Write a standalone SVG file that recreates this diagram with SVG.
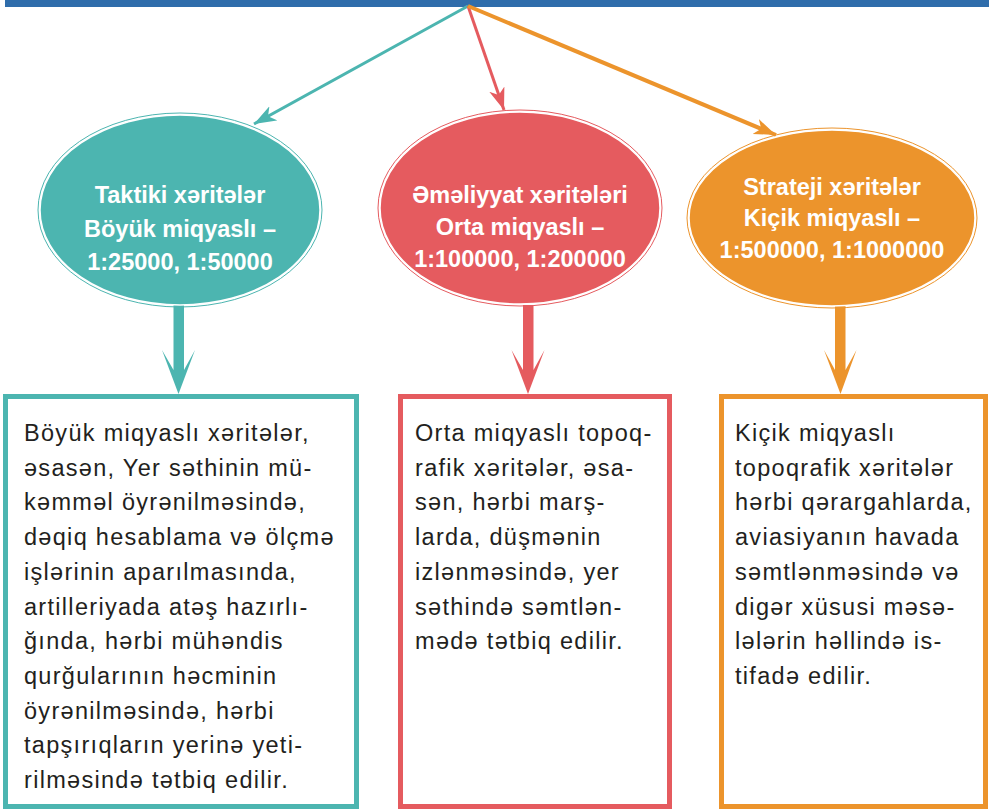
<svg xmlns="http://www.w3.org/2000/svg" width="989" height="810" viewBox="0 0 989 810">
<style>
.t{font-family:"Liberation Sans",Arial,sans-serif;font-weight:bold;font-size:23.5px;fill:#ffffff;text-anchor:middle}
.b{font-family:"Liberation Sans",Arial,sans-serif;font-size:23.5px;fill:#231f20;letter-spacing:1.3px}
.box{fill:#ffffff;stroke-width:5}
</style>
<defs>
<marker id="mt" markerUnits="userSpaceOnUse" markerWidth="24" markerHeight="18" refX="22" refY="8" orient="auto"><path d="M0,0 L22,8 L0,16 L6,8 Z" fill="#4cb5b0"/></marker>
<marker id="mr" markerUnits="userSpaceOnUse" markerWidth="24" markerHeight="18" refX="22" refY="8" orient="auto"><path d="M0,0 L22,8 L0,16 L6,8 Z" fill="#e55b5f"/></marker>
<marker id="mo" markerUnits="userSpaceOnUse" markerWidth="24" markerHeight="18" refX="22" refY="8" orient="auto"><path d="M0,0 L22,8 L0,16 L6,8 Z" fill="#ec942c"/></marker>
</defs>
<rect x="5" y="0" width="984" height="7" fill="#2f6dab"/>
<g id="connectors">
<line x1="468" y1="6" x2="254" y2="124" stroke="#4cb5b0" stroke-width="3" marker-end="url(#mt)"/>
<line x1="468" y1="6" x2="504" y2="110" stroke="#e55b5f" stroke-width="3" marker-end="url(#mr)"/>
<line x1="468" y1="6" x2="776" y2="135" stroke="#ec942c" stroke-width="4" marker-end="url(#mo)"/>
<path d="M173.5,305 H184 V370 L195,350 L178.5,394 L162,350 L173.5,370 Z" fill="#4cb5b0"/>
<path d="M523,305 H533.5 V370 L544.5,350 L528,394 L511.5,350 L523,370 Z" fill="#e55b5f"/>
<path d="M835,305 H845.5 V370 L856.5,350 L840.5,394 L824,350 L835,370 Z" fill="#ec942c"/>
</g>
<g id="n-taktiki">
<ellipse cx="180" cy="210" rx="142" ry="97" fill="none" stroke="#4cb5b0" stroke-width="1"/>
<ellipse cx="180" cy="210" rx="140" ry="95" fill="#4cb5b0" stroke="#ffffff" stroke-width="1.5"/>
<text class="t" x="180" y="203">Taktiki xərit<tspan>ələr</tspan></text>
<text class="t" x="180" y="237">Böyük miqyaslı –</text>
<text class="t" x="180" y="270">1:25000, 1:50000</text>
</g>
<g id="n-emeliyyat">
<ellipse cx="520" cy="208" rx="142" ry="98" fill="none" stroke="#e55b5f" stroke-width="1"/>
<ellipse cx="520" cy="208" rx="140" ry="96" fill="#e55b5f" stroke="#ffffff" stroke-width="1.5"/>
<text class="t" x="520" y="203">Əməliyyat xəritələri</text>
<text class="t" x="520" y="235">Orta miqyaslı –</text>
<text class="t" x="520" y="267">1:100000, 1:200000</text>
</g>
<g id="n-strateji">
<ellipse cx="832" cy="218" rx="145" ry="90" fill="none" stroke="#ec942c" stroke-width="1"/>
<ellipse cx="832" cy="218" rx="143" ry="88" fill="#ec942c" stroke="#ffffff" stroke-width="1.5"/>
<text class="t" x="832" y="195">Strateji xəritələr</text>
<text class="t" x="832" y="226">Kiçik miqyaslı –</text>
<text class="t" x="832" y="258">1:500000, 1:1000000</text>
</g>
<g id="box-taktiki">
<rect class="box" x="5.5" y="396.5" width="351" height="410" stroke="#4cb5b0"/>
<text class="b" x="24" y="441">Böyük miqyaslı xəritələr,</text>
<text class="b" x="24" y="475.7">əsasən, Yer səthinin mü-</text>
<text class="b" x="24" y="510.4">kəmməl öyrənilməsində,</text>
<text class="b" x="24" y="545">dəqiq hesablama və ölçmə</text>
<text class="b" x="24" y="579.8">işlərinin aparılmasında,</text>
<text class="b" x="24" y="614.5">artilleriyada atəş hazırlı-</text>
<text class="b" x="24" y="649.2">ğında, hərbi mühəndis</text>
<text class="b" x="24" y="683.9">qurğularının həcminin</text>
<text class="b" x="24" y="718.6">öyrənilməsində, hərbi</text>
<text class="b" x="24" y="753.3">tapşırıqların yerinə yeti-</text>
<text class="b" x="24" y="788">rilməsində tətbiq edilir.</text>
</g>
<g id="box-emeliyyat">
<rect class="box" x="400.5" y="396.5" width="269" height="410" stroke="#e55b5f"/>
<text class="b" x="415" y="441">Orta miqyaslı topoq-</text>
<text class="b" x="415" y="475.7">rafik xəritələr, əsa-</text>
<text class="b" x="415" y="510.4">sən, hərbi marş-</text>
<text class="b" x="415" y="545">larda, düşmənin</text>
<text class="b" x="415" y="579.8">izlənməsində, yer</text>
<text class="b" x="415" y="614.5">səthində səmtlən-</text>
<text class="b" x="415" y="649.2">mədə tətbiq edilir.</text>
</g>
<g id="box-strateji">
<rect class="box" x="721.5" y="396.5" width="264" height="410" stroke="#ec942c"/>
<text class="b" x="735" y="441">Kiçik miqyaslı</text>
<text class="b" x="735" y="475.7">topoqrafik xəritələr</text>
<text class="b" x="735" y="510.4">hərbi qərargahlarda,</text>
<text class="b" x="735" y="545">aviasiyanın havada</text>
<text class="b" x="735" y="579.8">səmtlənməsində və</text>
<text class="b" x="735" y="614.5">digər xüsusi məsə-</text>
<text class="b" x="735" y="649.2">lələrin həllində is-</text>
<text class="b" x="735" y="683.9">tifadə edilir.</text>
</g>
</svg>
